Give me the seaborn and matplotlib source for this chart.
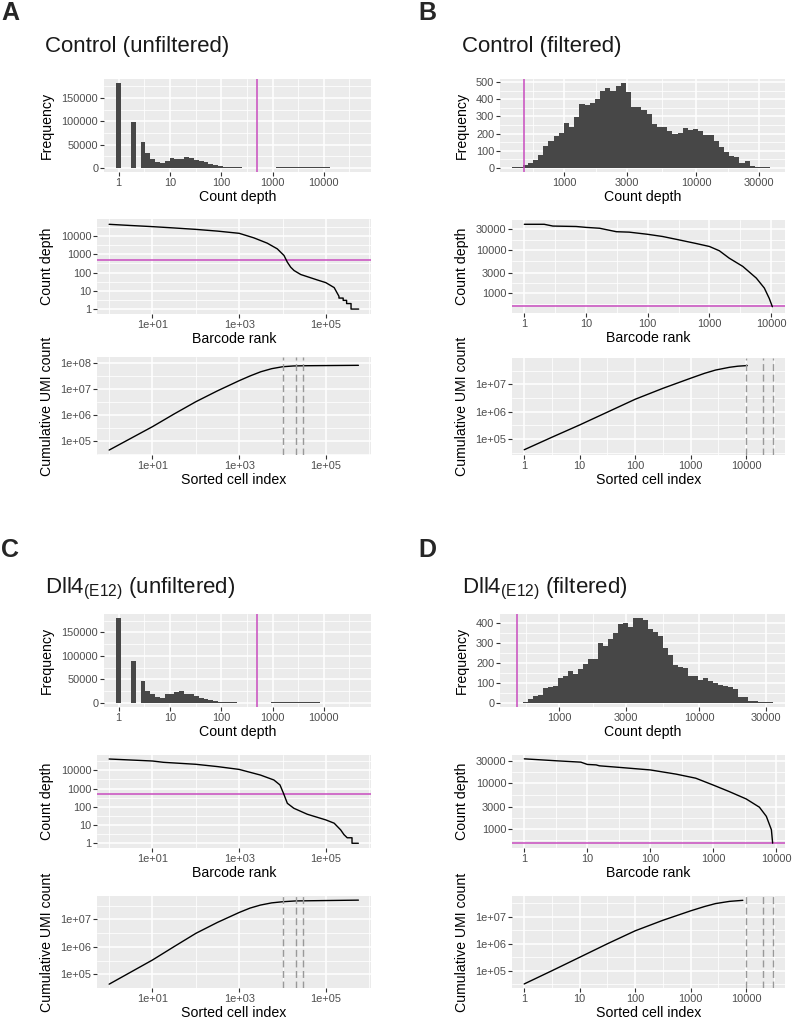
import numpy as np
import matplotlib
matplotlib.use("Agg")
import matplotlib.pyplot as plt
import seaborn as sns

# ---------------- data ----------------
# count-depth histograms: first bin centre (log10), bin width (log10), bin counts
ctrl_raw_bin0, ctrl_raw_binw = 0.0, 0.0945
ctrl_raw_counts = [182000, 0, 0, 98500, 0, 55000, 32000, 19000, 13000, 9300,
                   15000, 20000, 18500, 18500, 24000, 21000, 16500, 15000, 12000, 8000,
                   5000, 3000, 2000, 1400, 1000, 700, 500, 400, 300, 250,
                   250, 300, 400, 600, 900, 1100, 1200, 1300, 1200, 1000,
                   800, 700, 600, 600, 500, 400, 300, 200, 100, 50]

ctrl_filt_bin0, ctrl_filt_binw = 2.628, 0.0391
ctrl_filt_counts = [2, 3, 14, 27, 47, 76, 130, 159, 187, 202,
                    260, 241, 294, 371, 364, 377, 402, 449, 465, 451,
                    480, 494, 441, 354, 354, 338, 313, 255, 241, 241,
                    216, 196, 202, 231, 218, 227, 212, 192, 192, 154,
                    124, 91, 66, 62, 30, 41, 8, 6, 6, 4]

dll4_raw_bin0, dll4_raw_binw = 0.0, 0.0945
dll4_raw_counts = [180000, 0, 0, 89000, 0, 46000, 25000, 18000, 13000, 10700,
                   19300, 18000, 23600, 25000, 18000, 18000, 14300, 9300, 7100, 5000,
                   3600, 2100, 1400, 1000, 700, 500, 400, 300, 250, 250,
                   300, 400, 600, 800, 1000, 1100, 1100, 1000, 900, 800,
                   700, 600, 500, 450, 400, 300, 200, 150, 100, 50]

dll4_filt_bin0, dll4_filt_binw = 2.756, 0.0357
dll4_filt_counts = [5, 17, 35, 40, 75, 80, 85, 122, 135, 158,
                    142, 167, 192, 218, 218, 300, 283, 318, 347, 392,
                    397, 380, 422, 422, 413, 368, 355, 333, 272, 238,
                    188, 180, 172, 135, 135, 113, 125, 110, 97, 90,
                    83, 77, 67, 30, 30, 7, 7, 5, 5, 3]

# barcode-rank curves
ctrl_raw_rank = [1, 3.16, 10, 31.6, 100, 316, 1000, 2180, 4430, 7550, 10800, 12900, 15400,
                 18400, 26200, 63700, 99300, 155000, 200000, 200000, 250000, 250000,
                 300000, 300000, 380000, 380000, 570000]
ctrl_raw_depth = [43600, 37500, 32500, 27500, 23000, 18500, 14000, 7900, 4050, 1980, 855,
                  368, 196, 129, 78, 39, 28, 15, 5, 4, 4, 3, 3, 2, 2, 1, 1]

ctrl_filt_rank = [1, 2.1, 2.9, 6.9, 10, 16.6, 31, 50, 100, 174, 324, 603, 1000, 1450,
                  2090, 3470, 5750, 7760, 9330, 10470]
ctrl_filt_depth = [39000, 39000, 35500, 34700, 33100, 31600, 26300, 25700, 22900, 20400,
                   17000, 14100, 12000, 9550, 6460, 4170, 2240, 1320, 760, 490]

dll4_raw_rank = [1, 10, 17.8, 100, 316, 1000, 3090, 6310, 8710, 10500, 12900, 18200, 37200,
                 100000, 155000, 219000, 260000, 260000, 310000, 310000, 400000, 400000, 560000]
dll4_raw_depth = [41700, 32400, 27500, 21400, 16000, 11200, 5500, 2950, 1580, 550, 155, 83,
                  39, 19, 12.6, 5.4, 3, 3, 2, 2, 2, 1, 1]

dll4_filt_rank = [1, 3.16, 7.9, 10, 13.8, 15.5, 36, 100, 257, 525, 1000, 1780, 3310, 5370,
                  6920, 8320, 8710]
dll4_filt_depth = [34000, 30900, 28800, 25700, 25100, 24000, 21900, 19500, 15800, 12900,
                   9120, 6610, 4570, 3020, 1910, 977, 500]

# cumulative UMI curves
ctrl_raw_cidx = [1, 3.16, 10, 31.6, 100, 316, 1000, 1780, 3160, 5620, 10000, 17800,
                 31600, 562000]
ctrl_raw_cum = [43600, 123000, 347000, 1.07e6, 3.16e6, 8.3e6, 2.04e7, 3.1e7, 4.5e7,
                5.9e7, 7.0e7, 7.5e7, 7.65e7, 7.94e7]

ctrl_filt_cidx = [1, 3.16, 10, 31.6, 100, 316, 1000, 1780, 2820, 5010, 7080, 10000, 10470]
ctrl_filt_cum = [40000, 115000, 324000, 955000, 2.82e6, 7.08e6, 1.66e7, 2.51e7, 3.31e7,
                 4.17e7, 4.57e7, 4.79e7, 4.8e7]

dll4_raw_cidx = [1, 3.16, 10, 31.6, 100, 316, 1000, 1780, 3090, 5620, 10000, 20000, 562000]
dll4_raw_cum = [43600, 120000, 331000, 1.02e6, 3.09e6, 7.76e6, 1.78e7, 2.57e7, 3.31e7,
                3.98e7, 4.37e7, 4.68e7, 5.01e7]

dll4_filt_cidx = [1, 3.16, 10, 31.6, 100, 316, 1000, 1780, 2820, 5010, 8710]
dll4_filt_cum = [32400, 100000, 316000, 1.0e6, 3.02e6, 7.41e6, 1.66e7, 2.4e7, 3.09e7,
                 3.72e7, 4.07e7]

depth_cutoff = 500
expected_cells = [10000, 20000, 30000]

titles = ["Control (unfiltered)", "Control (filtered)",
          r"Dll4$_{\mathregular{(E12)}}$ (unfiltered)", r"Dll4$_{\mathregular{(E12)}}$ (filtered)"]
letters = ["A", "B", "C", "D"]

# ---------------- style ----------------
sns.set_theme(style="darkgrid", rc={
    "axes.facecolor": "#EBEBEB", "grid.color": "white",
    "xtick.bottom": True, "ytick.left": True,
    "xtick.major.size": 2.6, "ytick.major.size": 2.6,
    "xtick.major.width": 0.8, "ytick.major.width": 0.8,
    "xtick.color": "#333333", "ytick.color": "#333333",
    "xtick.labelcolor": "#4D4D4D", "ytick.labelcolor": "#4D4D4D",
    "xtick.labelsize": 7.9, "ytick.labelsize": 7.9,
    "xtick.major.pad": 1.5, "ytick.major.pad": 1.5,
    "axes.labelsize": 10.2, "axes.labelcolor": "black",
})
plt.rcParams["font.family"] = ["Liberation Sans", "DejaVu Sans"]

BAR = "#474747"
MAG = "#C94CBF"
W, H = 792, 1030
fig = plt.figure(figsize=(W / 100, H / 100), dpi=100)


def add_ax(box):
    l, t, r, b = box
    return fig.add_axes([l / W, 1 - b / H, (r - l) / W, (b - t) / H])


def minor_of(major, lo, hi):
    b = list(major)
    b = [b[0] - (b[1] - b[0])] + b + [b[-1] + (b[-1] - b[-2])]
    mids = [(p + q) / 2 for p, q in zip(b[:-1], b[1:])]
    return [m for m in mids if lo <= m <= hi]


def finish(ax, xlim, ylim, xt, xl, yt, yl, xlog, ylog, xlabel, ylabel, ylab_x, box):
    f = (lambda v: 10.0 ** np.asarray(v))
    ax.set_xlim(*(f(xlim) if xlog else xlim))
    ax.set_ylim(*(f(ylim) if ylog else ylim))
    ax.set_xticks(f(xt) if xlog else xt, xl)
    ax.set_yticks(f(yt) if ylog else yt, yl)
    xm = minor_of(xt, *xlim)
    ym = minor_of(yt, *ylim)
    ax.set_xticks(f(xm) if xlog else xm, minor=True)
    ax.set_yticks(f(ym) if ylog else ym, minor=True)
    ax.xaxis.set_minor_formatter(matplotlib.ticker.NullFormatter())
    ax.yaxis.set_minor_formatter(matplotlib.ticker.NullFormatter())
    ax.tick_params(which="minor", length=0)
    ax.grid(which="major", color="white", linewidth=1.1)
    ax.grid(which="minor", color="white", linewidth=0.55)
    for s in ax.spines.values():
        s.set_visible(False)
    ax.set_xlabel(xlabel, labelpad=1.5)
    ax.set_ylabel(ylabel)
    l, t, r, b = box
    ax.yaxis.set_label_coords((ylab_x - l) / (r - l), 0.5)
    ax.yaxis.label.set_verticalalignment("center")


def hist_panel(box, bin0, binw, counts, xlim, xt, xl, yt, ylab_x):
    ax = add_ax(box)
    n = len(counts)
    centres = bin0 + binw * np.arange(n)
    edges = [float(e) for e in bin0 - binw / 2 + binw * np.arange(n + 1)]
    sns.histplot(x=10 ** centres, weights=counts, bins=edges, log_scale=True, ax=ax,
                 color=BAR, alpha=1, linewidth=0, edgecolor="none")
    ax.axvline(depth_cutoff, color=MAG, lw=1.1)
    top = max(counts)
    finish(ax, xlim, (-0.05 * top, 1.05 * top), xt, xl, yt, [str(v) for v in yt],
           True, False, "Count depth", "Frequency", ylab_x, box)
    return ax


def rank_panel(box, rank, depth, xlim, ylim, xt, xl, yt, yl, ylab_x):
    ax = add_ax(box)
    ax.set_xscale("log")
    ax.set_yscale("log")
    ax.axhline(depth_cutoff, color=MAG, lw=1.1)
    sns.lineplot(x=rank, y=depth, ax=ax, color="black", lw=1.0, estimator=None, sort=False)
    finish(ax, xlim, ylim, xt, xl, yt, yl, True, True, "Barcode rank", "Count depth", ylab_x, box)
    return ax


def cum_panel(box, cidx, cum, xlim, ylim, xt, xl, yt, yl, ylab_x):
    ax = add_ax(box)
    ax.set_xscale("log")
    ax.set_yscale("log")
    sns.lineplot(x=cidx, y=cum, ax=ax, color="black", lw=1.0, estimator=None, sort=False)
    for v in expected_cells:
        ax.axvline(v, color="#999999", lw=1.0, dashes=(5, 2.6))
    finish(ax, xlim, ylim, xt, xl, yt, yl, True, True, "Sorted cell index",
           "Cumulative UMI count", ylab_x, box)
    return ax


dec = [0, 1, 2, 3, 4]
dec_lab = ["1", "10", "100", "1000", "10000"]
sci = [1, 3, 5]
sci_lab = ["1e+01", "1e+03", "1e+05"]
q = [3, np.log10(3000), 4, np.log10(30000)]
q_lab = ["1000", "3000", "10000", "30000"]

# ---- A: control unfiltered ----
hist_panel((104, 79, 371, 172), ctrl_raw_bin0, ctrl_raw_binw, ctrl_raw_counts,
           (-0.287, 4.92), dec, dec_lab, [0, 50000, 100000, 150000], 47)
rank_panel((97, 219, 371, 314), ctrl_raw_rank, ctrl_raw_depth, (-0.28, 6.04), (-0.27, 4.93),
           sci, sci_lab, dec, dec_lab, 47)
cum_panel((97, 357, 371, 455), ctrl_raw_cidx, ctrl_raw_cum, (-0.28, 6.04), (4.45, 8.22),
          sci, sci_lab, [5, 6, 7, 8], ["1e+05", "1e+06", "1e+07", "1e+08"], 47)

# ---- B: control filtered ----
hist_panel((500, 79, 785, 172), ctrl_filt_bin0, ctrl_filt_binw, ctrl_filt_counts,
           (2.515, 4.674), q, q_lab, [0, 100, 200, 300, 400, 500], 462)
rank_panel((512, 220, 785, 313), ctrl_filt_rank, ctrl_filt_depth, (-0.2, 4.225), (2.545, 4.69),
           dec, dec_lab, q, q_lab, 462)
cum_panel((512, 358, 785, 455), ctrl_filt_cidx, ctrl_filt_cum, (-0.22, 4.70), (4.41, 7.96),
          dec, dec_lab, [5, 6, 7], ["1e+05", "1e+06", "1e+07"], 462)

# ---- C: Dll4 unfiltered ----
hist_panel((104, 614, 371, 707), dll4_raw_bin0, dll4_raw_binw, dll4_raw_counts,
           (-0.287, 4.92), dec, dec_lab, [0, 50000, 100000, 150000], 47)
rank_panel((97, 755, 371, 848), dll4_raw_rank, dll4_raw_depth, (-0.28, 6.04), (-0.26, 4.84),
           sci, sci_lab, dec, dec_lab, 47)
cum_panel((97, 896, 371, 988), dll4_raw_cidx, dll4_raw_cum, (-0.28, 6.04), (4.5, 7.85),
          sci, sci_lab, [5, 6, 7], ["1e+05", "1e+06", "1e+07"], 47)

# ---- D: Dll4 filtered ----
hist_panel((500, 614, 785, 707), dll4_filt_bin0, dll4_filt_binw, dll4_filt_counts,
           (2.576, 4.612), q, q_lab, [0, 100, 200, 300, 400], 462)
rank_panel((512, 755, 785, 848), dll4_filt_rank, dll4_filt_depth, (-0.195, 4.136), (2.593, 4.615),
           dec, dec_lab, q, q_lab, 462)
cum_panel((512, 896, 785, 988), dll4_filt_cidx, dll4_filt_cum, (-0.22, 4.70), (4.36, 7.77),
          dec, dec_lab, [5, 6, 7], ["1e+05", "1e+06", "1e+07"], 462)

# titles and panel letters
for (lx, ly), (tx, ty), let, ttl in zip([(1, 20), (418, 20), (1, 557), (418, 557)],
                                        [(45, 52), (462, 52), (45, 593), (462, 593)],
                                        letters, titles):
    fig.text(lx / W, 1 - ly / H, let, fontsize=18, fontweight="bold", va="baseline")
    fig.text(tx / W, 1 - ty / H, ttl, fontsize=16, va="baseline", color="#1A1A1A")

fig.savefig("out.png", dpi=100)
